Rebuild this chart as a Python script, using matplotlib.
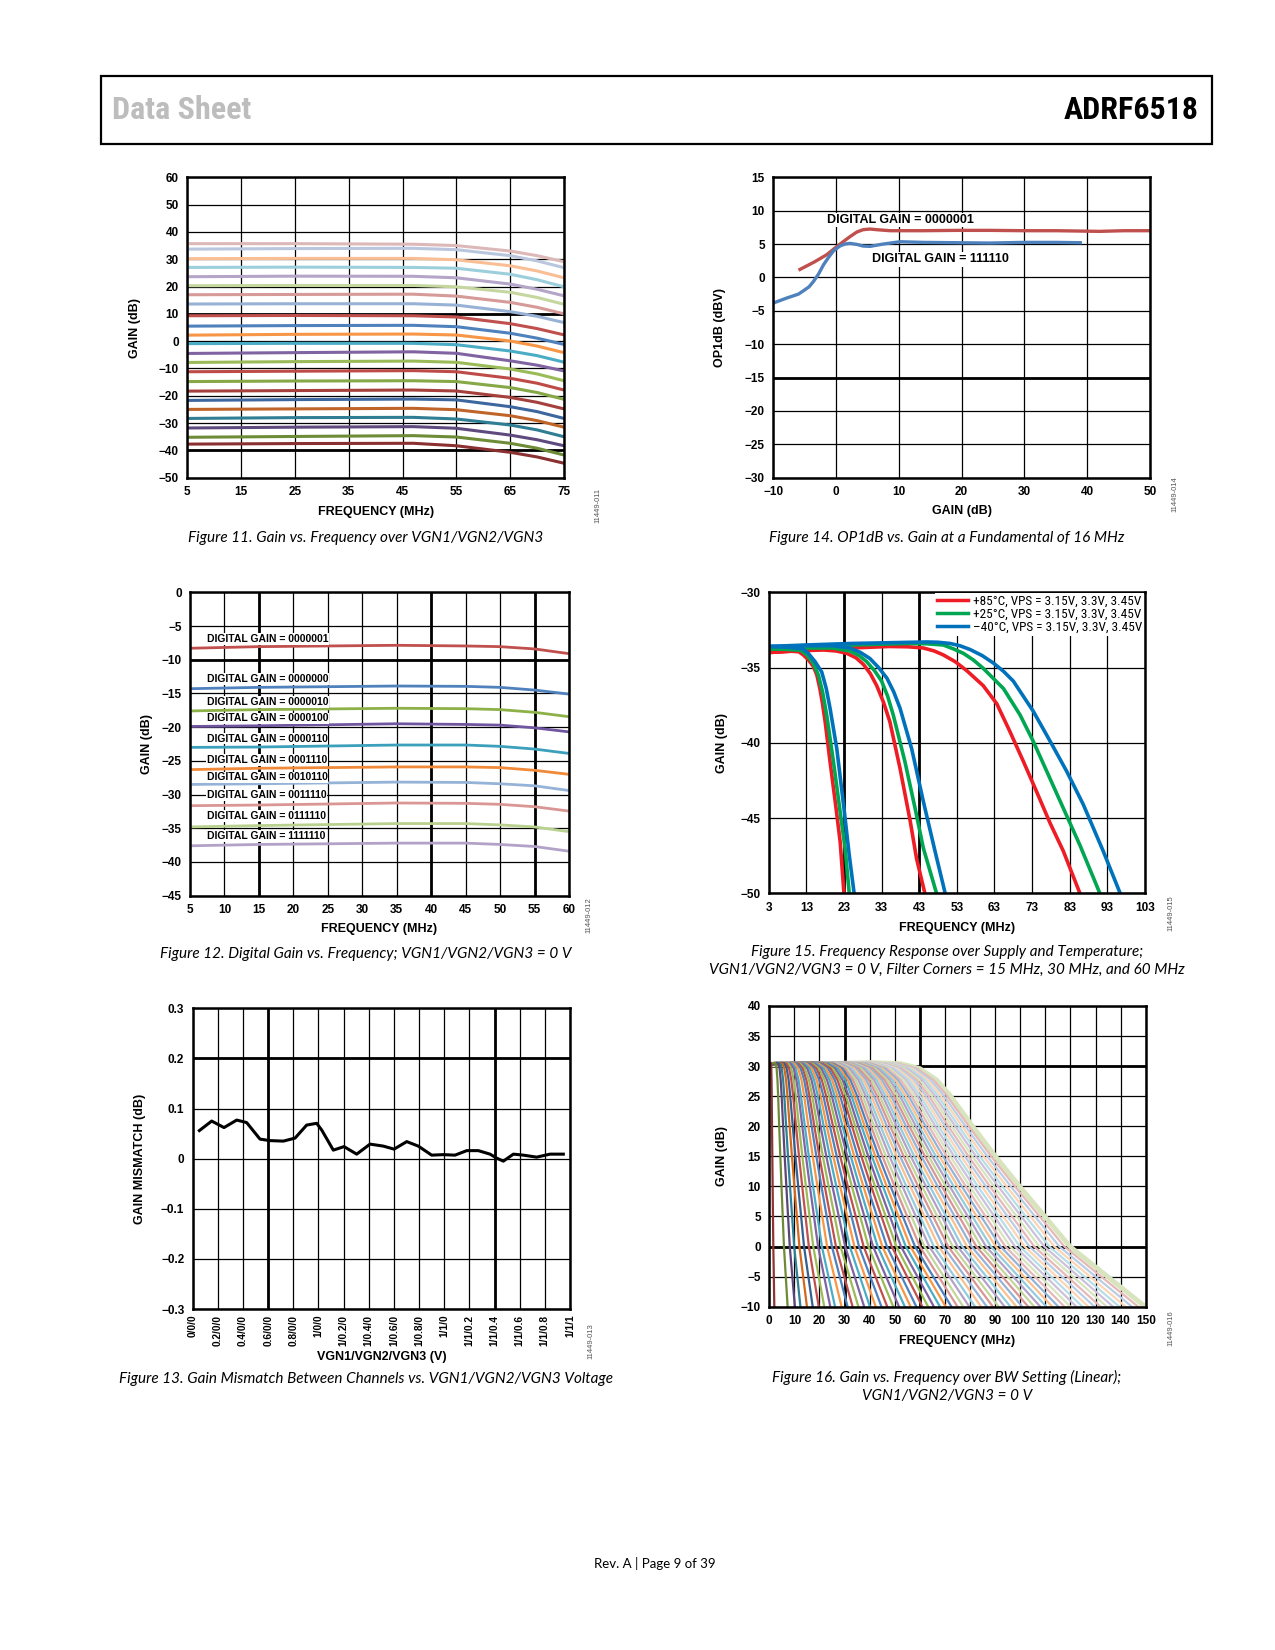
import matplotlib
matplotlib.use('Agg')
import matplotlib.pyplot as plt
from matplotlib.patches import Rectangle
from matplotlib.lines import Line2D

plt.rcParams['font.family'] = ['Liberation Sans', 'DejaVu Sans']

W, H = 1275, 1650
NARROW = ['Roboto Condensed', 'Liberation Sans Narrow', 'Roboto', 'Liberation Sans']

# ---------------- Figure 11 data: gain vs frequency over VGN ----------------
freq_11 = [5, 25, 47, 55, 65, 70, 75]
gain_11 = [
    [35.7, 35.7, 35.5, 35.0, 33.0, 31.3, 29.1],
    [33.7, 33.9, 34.0, 33.5, 31.3, 29.4, 26.9],
    [30.2, 30.3, 30.3, 29.8, 27.6, 25.7, 23.2],
    [27.0, 27.1, 27.0, 26.7, 24.5, 22.5, 19.9],
    [23.6, 23.8, 23.75, 23.2, 20.9, 19.0, 16.6],
    [20.3, 20.4, 20.4, 19.9, 17.9, 16.0, 13.5],
    [17.0, 17.1, 17.2, 16.5, 14.2, 12.4, 10.0],
    [13.6, 13.7, 13.7, 13.2, 10.8, 9.1, 6.8],
    [9.3, 9.4, 9.3, 8.85, 6.4, 4.6, 2.3],
    [5.5, 5.7, 5.8, 5.3, 2.9, 1.1, -1.2],
    [2.2, 2.5, 2.6, 2.25, 0.05, -1.8, -4.2],
    [-0.9, -0.8, -0.8, -1.3, -3.6, -5.3, -7.7],
    [-4.5, -4.2, -3.9, -4.45, -7.2, -8.8, -10.9],
    [-7.8, -7.5, -7.3, -7.75, -10.2, -12.0, -14.5],
    [-11.2, -11.0, -10.8, -11.2, -13.6, -15.4, -17.9],
    [-14.8, -14.6, -14.5, -14.8, -17.0, -18.8, -21.3],
    [-18.3, -18.1, -17.9, -18.25, -20.6, -22.4, -24.8],
    [-21.7, -21.4, -21.2, -21.5, -24.0, -25.8, -28.3],
    [-25.0, -24.8, -24.6, -25.1, -27.3, -29.1, -31.5],
    [-28.3, -28.0, -27.9, -28.5, -30.7, -32.5, -35.0],
    [-31.8, -31.5, -31.3, -31.9, -34.4, -36.1, -38.3],
    [-35.2, -34.9, -34.6, -35.1, -37.4, -39.2, -41.7],
    [-37.7, -37.5, -37.4, -38.3, -40.7, -42.4, -44.7],
]
colors_11 = ['#DDB8B8', '#B9C6DE', '#F9BE94', '#9CCFDC', '#B5A5C8', '#C5D79E',
             '#D69A98', '#98B2D6', '#C0504D', '#4F81BD', '#F79646', '#4BACC6',
             '#8064A2', '#9BBB59', '#BE4B48', '#86A846', '#A5403D', '#3D679E',
             '#C0652A', '#2F7E93', '#5F4A7E', '#6E8C37', '#8A3030']

# ---------------- Figure 14 data: OP1dB vs gain ----------------
gain_14_red = [-5.75, -3.5, -1.5, 0.09, 1.2, 2.2, 3.3, 4.3, 5.4, 6.5, 8.6, 13.9, 19.2, 24.5,
               29.8, 35.1, 42.0, 45.8, 50.0]
op1db_14_red = [1.2, 2.3, 3.4, 4.6, 5.4, 6.1, 6.8, 7.15, 7.25, 7.15, 7.0, 7.0, 7.05, 7.05,
                7.0, 7.0, 6.9, 7.0, 7.0]
gain_14_blue = [-9.9, -7.9, -6.0, -5.2, -4.3, -3.6, -2.8, -2.0, -1.2, -0.4, 0.6, 1.4, 2.2, 3.3,
                4.3, 5.4, 7.5, 10.2, 13.9, 19.2, 24.5, 29.8, 35.1, 38.9]
op1db_14_blue = [-3.8, -3.1, -2.5, -2.0, -1.4, -0.6, 0.5, 1.9, 3.0, 4.0, 4.7, 5.0, 5.1, 4.95,
                 4.7, 4.65, 5.0, 5.35, 5.25, 5.2, 5.15, 5.25, 5.25, 5.2]

# ---------------- Figure 12 data: digital gain vs frequency ----------------
freq_12 = [5, 15, 35, 45, 50, 55, 60]
gain_12 = [
    [-8.3, -8.06, -7.86, -7.96, -8.06, -8.4, -9.1],
    [-14.3, -14.1, -13.9, -13.95, -14.1, -14.5, -15.1],
    [-17.6, -17.4, -17.2, -17.26, -17.4, -17.8, -18.45],
    [-19.9, -19.8, -19.5, -19.6, -19.7, -20.1, -20.7],
    [-23.0, -22.95, -22.65, -22.65, -22.85, -23.25, -23.9],
    [-26.3, -26.1, -25.9, -25.9, -26.0, -26.4, -27.0],
    [-28.5, -28.4, -28.15, -28.2, -28.4, -28.7, -29.4],
    [-31.65, -31.55, -31.25, -31.3, -31.45, -31.8, -32.45],
    [-34.8, -34.6, -34.3, -34.3, -34.5, -34.8, -35.5],
    [-37.6, -37.4, -37.2, -37.2, -37.4, -37.7, -38.4],
]
codes_12 = ['0000001', '0000000', '0000010', '0000100', '0000110',
            '0001110', '0010110', '0011110', '0111110', '1111110']
label_y_12 = [-6.97, -12.9, -16.3, -18.7, -21.7, -24.9, -27.45, -30.1, -33.2, -36.15]
colors_12 = ['#C0504D', '#4F81BD', '#8DB048', '#7056A0', '#3CA0BC',
             '#F08A3A', '#95B3D7', '#D99694', '#B9D18E', '#B3A2C7']

# ---------------- Figure 15 data: frequency response over supply/temperature ----------------
resp_15 = {
    'red': [
        ([3, 8, 11, 12.2, 13.6, 14.9, 15.8, 16.6, 17.3, 18.0, 19.3, 20.9, 22.0, 23.0],
         [-34.0, -33.9, -33.95, -34.16, -34.5, -34.94, -35.5, -36.4, -37.4, -38.6, -41.25,
          -44.35, -46.6, -50]),
        ([3, 10, 17.5, 21, 23.7, 26.2, 28.2, 30.0, 31.7, 33.5, 35.2, 37.9, 40.6, 42.3, 44.5],
         [-34.0, -33.9, -33.83, -33.9, -34.05, -34.35, -34.8, -35.4, -36.2, -37.3, -38.6,
          -41.7, -45.2, -47.7, -50]),
        ([3, 13, 25, 35, 40, 44.1, 47, 49.4, 52.5, 55.6, 60.0, 63.6, 67.1, 70.7, 74.2, 77.8,
          81.3, 85.7],
         [-34.0, -33.85, -33.7, -33.6, -33.62, -33.7, -33.9, -34.16, -34.6, -35.2, -36.2,
          -37.4, -39.25, -41.25, -43.25, -45.35, -47.2, -50]),
    ],
    'green': [
        ([3, 8, 11.5, 13.1, 14.8, 16.2, 17.3, 18.4, 20.2, 22.1, 23.3, 24.4],
         [-33.75, -33.8, -33.85, -34.16, -34.7, -35.5, -36.6, -38.15, -41.25, -44.8, -47.0, -50]),
        ([3, 12, 20, 24.6, 27, 29.0, 31.1, 33.0, 34.6, 36.1, 39.2, 41.9, 44.1, 47.6],
         [-33.75, -33.7, -33.7, -33.9, -34.2, -34.6, -35.2, -35.9, -36.9, -38.15, -41.25,
          -44.35, -47.0, -50]),
        ([3, 13, 25, 40, 45, 49.4, 52, 54.7, 57.4, 60.0, 65.4, 69.8, 73.3, 76.9, 81.3, 85.7, 91.0],
         [-33.75, -33.65, -33.5, -33.4, -33.42, -33.5, -33.75, -34.05, -34.5, -35.05, -36.4,
          -38.15, -39.9, -41.9, -44.35, -46.8, -50]),
    ],
    'blue': [
        ([3, 8, 12, 13.5, 15.3, 17.1, 18.3, 19.3, 21.1, 23.0, 24.4, 25.7],
         [-33.6, -33.65, -33.75, -34.05, -34.6, -35.3, -36.4, -37.7, -40.4, -44.35, -47.45, -50]),
        ([3, 12, 20, 24.6, 27.4, 29.9, 32.2, 34.4, 36.2, 37.9, 41.0, 44.1, 47.2, 49.9],
         [-33.6, -33.55, -33.55, -33.7, -34.0, -34.4, -35.0, -35.7, -36.6, -37.7, -40.4,
          -43.9, -47.2, -50]),
        ([3, 13, 25, 45, 48, 51.2, 53.8, 56.5, 59.7, 62.7, 65.4, 68.0, 73.3, 77.8, 82.2, 86.6,
          91.9, 96.4],
         [-33.6, -33.5, -33.4, -33.3, -33.32, -33.4, -33.55, -33.8, -34.2, -34.7, -35.25, -35.9,
          -37.9, -39.9, -41.9, -44.1, -47.2, -50]),
    ],
}
colors_15 = {'red': '#EE1C25', 'green': '#00A651', 'blue': '#0072BC'}
legend_15 = ['+85°C, VPS = 3.15V, 3.3V, 3.45V',
             '+25°C, VPS = 3.15V, 3.3V, 3.45V',
             '\u201340°C, VPS = 3.15V, 3.3V, 3.45V']

# ---------------- Figure 13 data: gain mismatch vs VGN ----------------
vgn_13 = [0.053, 0.151, 0.249, 0.350, 0.429, 0.535, 0.615, 0.721, 0.814, 0.906, 0.986,
          1.026, 1.118, 1.203, 1.304, 1.410, 1.516, 1.601, 1.702, 1.794, 1.900, 1.993,
          2.086, 2.179, 2.271, 2.364, 2.417, 2.470, 2.550, 2.629, 2.735, 2.841, 2.947]
mismatch_13 = [0.056, 0.075, 0.062, 0.077, 0.072, 0.039, 0.036, 0.035, 0.041, 0.067, 0.0705,
               0.057, 0.017, 0.024, 0.009, 0.029, 0.025, 0.019, 0.034, 0.025, 0.007, 0.008,
               0.007, 0.016, 0.016, 0.009, 0.001, -0.005, 0.009, 0.007, 0.003, 0.009, 0.009]
vgn_ticklabels = ['0/0/0', '0.2/0/0', '0.4/0/0', '0.6/0/0', '0.8/0/0', '1/0/0',
                  '1/0.2/0', '1/0.4/0', '1/0.6/0', '1/0.8/0', '1/1/0', '1/1/0.2',
                  '1/1/0.4', '1/1/0.6', '1/1/0.8', '1/1/1']

# ---------------- Figure 16 data: gain vs frequency over BW setting ----------------
# rolloff shape (frequency as fraction of the -10 dB point)
bw_shape_u = [0.0, 0.15, 0.27, 0.35, 0.40, 0.445, 0.48, 0.542, 0.602, 0.666, 0.733, 0.80, 0.90, 1.0]
bw_shape_gain = [30.2, 30.4, 30.6, 30.4, 29.6, 27.7, 25.2, 19.9, 14.95, 10.0, 5.0, 0.0, -5.0, -10.0]
# frequency where each BW setting curve reaches -10 dB
bw_end_freq = [2.0, 7.3, 10.2, 12.4, 15.0, 17.3, 19.7, 21.9, 24.3, 26.2, 28.8, 31.2, 33.2,
               35.5, 37.8, 40.1, 42.4, 44.7, 47.0, 49.4, 51.7, 54.0, 56.3, 58.6, 61.0, 63.3,
               65.6, 68.0, 70.3, 72.6, 75.0, 77.3, 79.7, 82.0, 84.4, 86.7, 89.1, 91.4, 93.8,
               96.1, 98.5, 100.8, 103.2, 105.6, 108.0, 110.4, 112.8, 115.2, 117.6, 120.0,
               122.4, 124.8, 127.2, 129.6, 132.0, 134.5, 137.0, 139.5, 142.0, 144.5, 147.0, 149.8]
shades_16 = [
    ['#8E3431', '#6F8A37', '#5B4677', '#2F7F95', '#D2691E', '#35608F'],
    ['#C0504D', '#9BBB59', '#8064A2', '#4BACC6', '#F79646', '#4F81BD'],
    ['#D99694', '#C3D69B', '#B3A2C7', '#93CDDD', '#FAC090', '#95B3D7'],
    ['#E6B9B8', '#D7E4BD', '#CCC1DA', '#B7DEE8', '#FCD5B5', '#B9CDE5'],
]

fig = plt.figure(figsize=(W / 100, H / 100), dpi=100)


def add_ax(x0, y0, x1, y1):
    return fig.add_axes([x0 / W, 1 - y1 / H, (x1 - x0) / W, (y1 - y0) / H])


def style(ax, xt, yt, xlabel, ylabel, xlab_y, ylab_x, thick_x=(), thick_y=(), fs=8.5):
    ax.set_xticks(xt)
    ax.set_yticks(yt)
    ax.set_xlim(xt[0], xt[-1])
    ax.set_ylim(yt[0], yt[-1])
    ax.grid(True, color='black', lw=0.9)
    ax.set_axisbelow(True)
    for v in thick_x:
        ax.axvline(v, color='black', lw=2.0, zorder=0.6)
    for v in thick_y:
        ax.axhline(v, color='black', lw=2.0, zorder=0.6)
    ax.tick_params(length=0, labelsize=fs, pad=6)
    for lab in ax.get_xticklabels() + ax.get_yticklabels():
        lab.set_fontweight('bold')
    for s in ax.spines.values():
        s.set_linewidth(1.8)
    ax.set_xlabel(xlabel, fontsize=9, fontweight='bold', va='center')
    ax.xaxis.set_label_coords(0.5, xlab_y)
    ax.set_ylabel(ylabel, fontsize=9, fontweight='bold', va='center')
    ax.yaxis.set_label_coords(ylab_x, 0.5)


def tag(x, y, s):
    fig.text(x / W, 1 - y / H, s, fontsize=5.5, color='#555555', rotation=90,
             ha='center', va='center')


def caption(x, y, s):
    fig.text(x / W, 1 - y / H, s, fontsize=11, style='italic', family=['Lato', 'DejaVu Sans'],
             ha='center', va='center')


# header
fig.patches.append(Rectangle((101 / W, 1 - 144 / H), (1212 - 101) / W, (144 - 76) / H,
                             transform=fig.transFigure, fill=False, lw=1.6, ec='black'))
fig.text(112 / W, 1 - 110 / H, 'Data Sheet', fontsize=23, fontweight='bold', color='#BDBDBD',
         family=NARROW, ha='left', va='center')
fig.text(1199 / W, 1 - 110 / H, 'ADRF6518', fontsize=23, fontweight='bold', color='black',
         family=NARROW, ha='right', va='center')

# Figure 11
ax = add_ax(187.3, 177.3, 564, 477.7)
style(ax, list(range(5, 76, 10)), list(range(-50, 61, 10)), 'FREQUENCY (MHz)', 'GAIN (dB)',
      -0.113, -0.138, thick_y=(10, -40))
for g, c in zip(gain_11, colors_11):
    ax.plot(freq_11, g, color=c, lw=2.2, solid_capstyle='round')
tag(598, 505, '11449-011')
caption(366, 538, 'Figure 11. Gain vs. Frequency over VGN1/VGN2/VGN3')

# Figure 14
ax = add_ax(773.3, 177.3, 1150, 477.7)
style(ax, list(range(-10, 51, 10)), list(range(-30, 16, 5)), 'GAIN (dB)', 'OP1dB (dBV)',
      -0.11, -0.141, thick_y=(-15,))
ax.plot(gain_14_red, op1db_14_red, color='#C0504D', lw=2.4)
ax.plot(gain_14_blue, op1db_14_blue, color='#4F81BD', lw=2.4)
bb = dict(facecolor='white', edgecolor='none', pad=1.0)
ax.text(-1.5, 8.6, 'DIGITAL GAIN = 0000001', fontsize=9, fontweight='bold', va='center', bbox=bb)
ax.text(5.8, 2.7, 'DIGITAL GAIN = 111110', fontsize=9, fontweight='bold', va='center', bbox=bb)
tag(1175, 494, '11449-014')
caption(947, 538, 'Figure 14. OP1dB vs. Gain at a Fundamental of 16 MHz')

# Figure 12
ax = add_ax(190, 592.3, 569, 895.7)
style(ax, list(range(5, 61, 5)), list(range(-45, 1, 5)), 'FREQUENCY (MHz)', 'GAIN (dB)',
      -0.11, -0.113, thick_x=(15, 40, 55), thick_y=(-10,))
for g, c, code, ly in zip(gain_12, colors_12, codes_12, label_y_12):
    ax.plot(freq_12, g, color=c, lw=2.0)
    ax.text(7.4, ly, 'DIGITAL GAIN = ' + code, fontsize=7.5, fontweight='bold', va='center',
            bbox=dict(facecolor='white', edgecolor='none', pad=0.6))
tag(589, 915, '11449-012')
caption(366, 954, 'Figure 12. Digital Gain vs. Frequency; VGN1/VGN2/VGN3 = 0 V')

# Figure 15
ax = add_ax(768.7, 592.3, 1145, 893.3)
style(ax, list(range(3, 104, 10)), list(range(-50, -29, 5)), 'FREQUENCY (MHz)', 'GAIN (dB)',
      -0.116, -0.124, thick_x=(23, 43))
handles = []
for name in ['red', 'green', 'blue']:
    for xs, ys in resp_15[name]:
        ax.plot(xs, ys, color=colors_15[name], lw=2.6)
    handles.append(Line2D([], [], color=colors_15[name], lw=2.5))
leg = ax.legend(handles, legend_15, loc='upper right', frameon=True,
                prop={'family': NARROW, 'size': 9.5},
                handlelength=2.4, labelspacing=0.0, handletextpad=0.35,
                borderaxespad=0.05, borderpad=0.15, fancybox=False)
leg.get_frame().set_facecolor('white')
leg.get_frame().set_edgecolor('none')
leg.get_frame().set_alpha(1)
tag(1171, 913, '11449-015')
caption(947, 952, 'Figure 15. Frequency Response over Supply and Temperature;')
caption(947, 970, 'VGN1/VGN2/VGN3 = 0 V, Filter Corners = 15 MHz, 30 MHz, and 60 MHz')

# Figure 13
ax = add_ax(192.7, 1008.3, 570, 1309)
vgn_ticks = [i * 0.2 for i in range(16)]
style(ax, vgn_ticks, [-0.3, -0.2, -0.1, 0, 0.1, 0.2, 0.3], 'VGN1/VGN2/VGN3 (V)',
      'GAIN MISMATCH (dB)', -0.16, -0.14, thick_x=(0.6, 2.4), thick_y=(0.2,))
ax.set_xticklabels(vgn_ticklabels, rotation=90, fontsize=7.3, fontweight='bold')
ax.set_yticklabels(['\u22120.3', '\u22120.2', '\u22120.1', '0', '0.1', '0.2', '0.3'],
                   fontweight='bold')
ax.tick_params(axis='x', pad=4)
ax.plot(vgn_13, mismatch_13, color='black', lw=2.2)
tag(591, 1341, '11449-013')
caption(366, 1379, 'Figure 13. Gain Mismatch Between Channels vs. VGN1/VGN2/VGN3 Voltage')

# Figure 16
ax = add_ax(769.3, 1006, 1145.7, 1306.7)
style(ax, list(range(0, 151, 10)), list(range(-10, 41, 5)), 'FREQUENCY (MHz)', 'GAIN (dB)',
      -0.115, -0.125, thick_x=(30, 60), thick_y=(30, 0))
n16 = len(bw_end_freq)
for i, fe in enumerate(bw_end_freq):
    if i < 6:
        shade = 0
    elif i < 30:
        shade = 1
    elif i < 48:
        shade = 2
    else:
        shade = 3
    c = shades_16[shade][i % 6]
    lw = 1.6
    if i == n16 - 1:
        c, lw = '#D7E4BD', 3.5
    ax.plot([u * fe for u in bw_shape_u], bw_shape_gain, color=c, lw=lw, zorder=2 + (n16 - i) * 0.001)
tag(1171, 1328, '11449-016')
caption(947, 1377, 'Figure 16. Gain vs. Frequency over BW Setting (Linear);')
caption(947, 1396, 'VGN1/VGN2/VGN3 = 0 V')

fig.text(655 / W, 1 - 1564 / H, 'Rev. A | Page 9 of 39', fontsize=9.5,
         family=['Lato', 'DejaVu Sans'], ha='center', va='center')

fig.savefig('out.png', dpi=100)
